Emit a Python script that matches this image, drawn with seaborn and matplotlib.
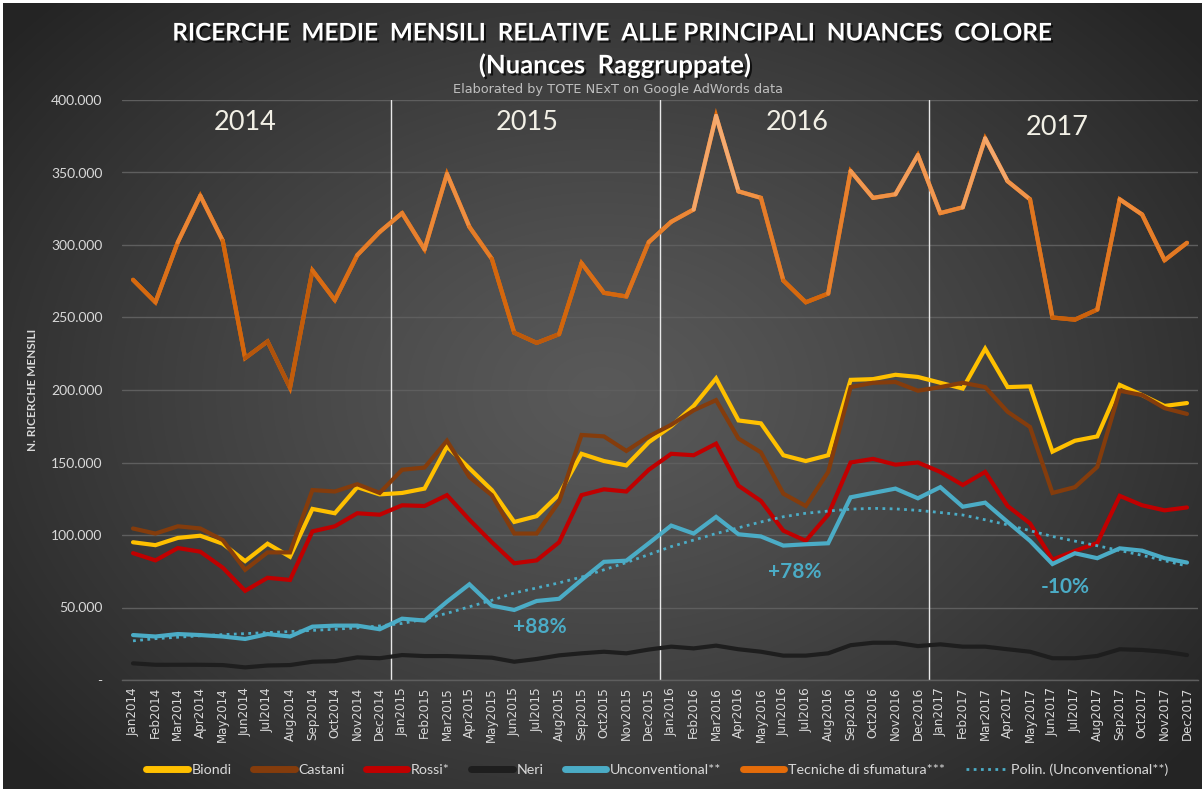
import numpy as np
import pandas as pd
import matplotlib
matplotlib.use("Agg")
import matplotlib.pyplot as plt
import matplotlib.patheffects as pe
from matplotlib.collections import LineCollection
from matplotlib.colors import LinearSegmentedColormap, Normalize
from matplotlib.ticker import FuncFormatter, FixedLocator
import seaborn as sns

# ---------------- data ----------------
months = ["Jan", "Feb", "Mar", "Apr", "May", "Jun", "Jul", "Aug", "Sep", "Oct", "Nov", "Dec"]
years = [2014, 2015, 2016, 2017]
tick_labels = [f"{m}{y}" for y in years for m in months]

biondi = [95, 93, 98, 99.5, 94, 82, 94, 85, 118, 115, 133, 128,
          129, 132, 161, 146, 131, 109, 113, 128, 156, 151, 148, 164,
          175, 189, 208, 179, 177, 155, 151, 155, 207, 207.5, 210.5, 209,
          205, 201, 228.5, 202, 202.5, 157.5, 165, 168, 203.5, 196.5, 189, 191]
castani = [104.5, 101, 106, 104.5, 96.5, 76, 88, 88, 131, 130, 135, 129,
           145, 146.5, 165, 140, 127.5, 101, 101, 123, 169, 168, 158, 168,
           176, 186, 193, 166.5, 157, 128.5, 120, 143.5, 202, 205, 205.5, 199.5,
           202, 205, 202, 185, 174.5, 129, 133, 147, 199.5, 196.5, 187.5, 183.5]
rossi = [87.5, 82.5, 91, 88.5, 77.5, 61.5, 70.5, 69, 102.5, 106, 115, 114,
         120.5, 120, 127.5, 110.5, 95, 80.5, 82.5, 95, 127.5, 131.5, 130, 145,
         156, 155, 163, 134, 123.5, 103, 96, 114, 150, 152.5, 148.5, 150,
         143.5, 134.5, 143.5, 120, 108, 83, 89, 94.5, 127, 120.5, 117, 119]
neri = [11.5, 10.5, 10.5, 10.5, 10.3, 8.7, 10, 10.3, 12.6, 13, 15.6, 15,
        17.2, 16.5, 16.5, 16, 15.4, 12.6, 14.5, 17, 18.4, 19.5, 18.4, 21,
        23, 21.8, 23.7, 21.2, 19.5, 16.8, 16.8, 18.4, 24, 25.7, 25.7, 23.4,
        24.6, 23, 23, 21.2, 19.5, 15, 15, 16.6, 21.2, 20.7, 19.5, 17.2]
unconventional = [31, 30, 31.7, 31, 30, 28.3, 31.7, 30, 36.8, 37.5, 37.5, 35,
                  42.3, 41, 54, 66, 51.3, 48.3, 54.5, 56, 69, 81.5, 82.3, 94.3,
                  106.5, 101, 112.5, 100.5, 99, 92.7, 93.6, 94.3, 126, 129, 132, 125.3,
                  133, 119.5, 122.3, 109, 96, 80, 87.4, 84, 90.8, 89.2, 84, 81]
tecniche = [276, 260.5, 302, 334, 303, 222, 233.5, 201.5, 282.5, 262, 293, 309,
            322, 297, 349, 312.5, 290.5, 239.5, 232.5, 238.5, 287.5, 267, 264.5, 302,
            316, 324.5, 389, 337, 332.5, 275.5, 260.5, 266.5, 351, 332.5, 335, 362,
            322, 326, 373.5, 344, 331.5, 250, 248.5, 255.5, 331.5, 321, 289.5, 301.5]
# polynomial trendline of Unconventional**
trend_unconventional = [27, 28.5, 29.5, 30.5, 31.3, 32, 32.7, 33.4, 34.2, 35, 36, 37.3,
                        39, 42, 46, 50.5, 55, 60, 63.5, 67, 71, 76, 81, 86.5,
                        92, 96.5, 101, 105, 109, 112.6, 115, 116.5, 117.8, 118.4, 118, 117,
                        115.5, 113.8, 110.5, 107, 103, 99, 95.8, 92.6, 89.3, 86, 82.3, 78.6]

series_names = ["Biondi", "Castani", "Rossi*", "Neri", "Unconventional**", "Tecniche di sfumatura***"]
series_values = [biondi, castani, rossi, neri, unconventional, tecniche]
series_colors = ["#FFC000", "#843C0C", "#C00000", "#1E1E1E", "#4BACC6", "#E46C0A"]
trend_name = "Polin. (Unconventional**)"

year_labels = ["2014", "2015", "2016", "2017"]
growth_labels = ["+88%", "+78%", "-10%"]

# ---------------- figure ----------------
sns.set_style("dark")
plt.rcParams["font.family"] = ["Lato", "DejaVu Sans"]

W, H = 1202, 789
fig = plt.figure(figsize=(W / 100, H / 100), dpi=100, facecolor="white")

# background gradient (radial)
bg = fig.add_axes([3 / W, 0, 1 - 3 / W, 1 - 3 / H], zorder=-10)
yy, xx = np.mgrid[0:H, 0:W]
r = np.sqrt(((xx - 600) / 760.0) ** 2 + ((yy - 390) / 560.0) ** 2)
r = np.clip(r, 0, 1)
v = 0.35 - (0.35 - 0.145) * r ** 1.2
bg.imshow(np.dstack([v, v, v]), aspect="auto", extent=[0, 1, 0, 1], interpolation="bilinear")
bg.set_axis_off()

left, right = 121.8 / W, 1198.2 / W
bottom, top = (H - 680) / H, (H - 100) / H
ax = fig.add_axes([left, bottom, right - left, top - bottom])
ax.set_facecolor("none")

x = np.arange(len(tick_labels))
df = pd.DataFrame({"idx": np.tile(x, len(series_names)),
                   "value": np.concatenate([np.array(s) * 1000 for s in series_values]),
                   "serie": np.repeat(series_names, len(x))})

shadow = [pe.SimpleLineShadow(offset=(1.5, -2), shadow_color="black", alpha=0.45), pe.Normal()]

for name, col in zip(series_names, series_colors):
    sub = df[df["serie"] == name]
    sns.lineplot(data=sub, x="idx", y="value", color=col, linewidth=3.0, ax=ax,
                 label=name, solid_joinstyle="miter", solid_capstyle="round",
                 path_effects=shadow, zorder=3)

# gradient overlay for the "Tecniche" series
tv = np.array(tecniche) * 1000
pts = np.column_stack([x, tv])
segs = np.stack([pts[:-1], pts[1:]], axis=1)
cmap = LinearSegmentedColormap.from_list("org", ["#A04A0A", "#D4660C", "#EE8A3A", "#FAC49A"])
mids = (tv[:-1] + tv[1:]) / 2
lc = LineCollection(segs, colors=cmap(Normalize(200000, 390000)(mids)), linewidths=3.0,
                    capstyle="round", joinstyle="round", zorder=4)
ax.add_collection(lc)

# polynomial trend of the unconventional series
sns.lineplot(x=x, y=np.array(trend_unconventional) * 1000, color="#4BACC6", linewidth=2.0,
             linestyle=(0, (1, 1.6)), ax=ax, label=trend_name, zorder=5)

# axes styling
ax.set_xlim(-0.5, len(x) - 0.5)
ax.set_ylim(0, 400000)
ax.yaxis.set_major_locator(FixedLocator(np.arange(0, 400001, 50000)))
ax.yaxis.set_major_formatter(FuncFormatter(lambda v, p: "-" if v == 0 else f"{int(v):,}".replace(",", ".")))
ax.set_xticks(x)
ax.set_xticklabels(tick_labels, rotation=90, fontsize=8.6, color="#D9D9D9", family="DejaVu Sans")
ax.tick_params(axis="x", length=0, pad=5)
ax.tick_params(axis="y", length=0, pad=14, labelsize=10, labelcolor="#D9D9D9")
ax.grid(axis="y", color="#5E5E5E", linewidth=1.0)
ax.grid(axis="x", visible=False)
for s in ["top", "right", "left"]:
    ax.spines[s].set_visible(False)
ax.spines["bottom"].set_color("#5E5E5E")
ax.spines["bottom"].set_linewidth(1.0)
ax.set_xlabel("")
ax.set_ylabel("N. RICERCHE MENSILI", fontsize=8.5, fontweight="bold", color="#D9D9D9")
ax.yaxis.set_label_coords(-0.078, 0.5)

# year separators and labels
for b in [11.5, 23.5, 35.5]:
    ax.axvline(b, color="#E8E8E8", linewidth=1.0, zorder=2)
year_pos = [(5.0, 384500), (17.57, 384500), (29.6, 384500), (41.2, 381000)]
for lab, (px, py) in zip(year_labels, year_pos):
    ax.text(px, py, lab, ha="center", va="center", fontsize=19.5, color="#F2F0E6")

growth_pos = [(18.15, 36500), (29.5, 74500), (41.55, 64000)]
for lab, (px, py) in zip(growth_labels, growth_pos):
    ax.text(px, py, lab, ha="center", va="center", fontsize=15, fontweight="bold", color="#4BACC6")

# titles
tshadow = [pe.withSimplePatchShadow(offset=(1.5, -1.5), shadow_rgbFace="black", alpha=0.7)]
fig.text(0.509, 1 - 33 / H, "RICERCHE  MEDIE  MENSILI  RELATIVE  ALLE PRINCIPALI  NUANCES  COLORE",
         ha="center", va="center", fontsize=17.5, fontweight="bold", color="white", path_effects=tshadow)
fig.text(0.512, 1 - 65 / H, "(Nuances  Raggruppate)", ha="center", va="center",
         fontsize=18.5, fontweight="bold", color="white", path_effects=tshadow)
fig.text(0.514, 1 - 89 / H, "Elaborated by TOTE NExT on Google AdWords data", ha="center", va="center",
         fontsize=9.3, color="#BFBFBF", family="DejaVu Sans")

# legend
handles, labels = ax.get_legend_handles_labels()
if ax.legend_:
    ax.legend_.remove()
for h in handles:
    h.set_path_effects([])
leg = fig.legend(handles, labels, loc="center", bbox_to_anchor=(0.547, 1 - 770 / H), ncol=7,
                 frameon=False, fontsize=10.3, handlelength=2.9, columnspacing=1.5, handletextpad=0.25,
                 labelcolor="#D9D9D9")
for line in leg.get_lines():
    if line.get_linestyle() == "-":
        line.set_linewidth(5)

fig.savefig("out.png", dpi=100, facecolor=fig.get_facecolor())
